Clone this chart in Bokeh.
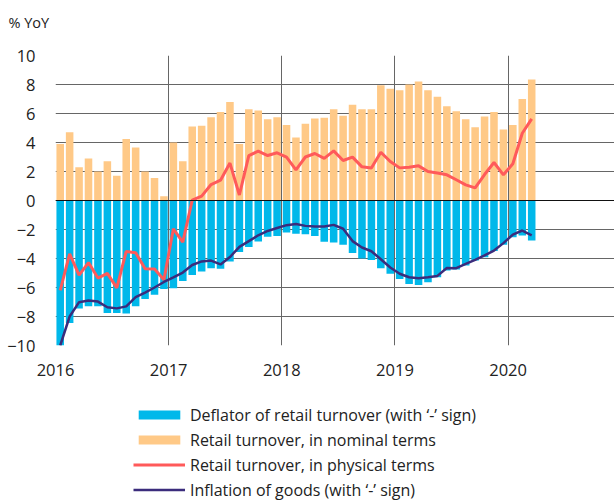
from bokeh.plotting import figure
from bokeh.layouts import column
from bokeh.models import ColumnDataSource, Legend, LegendItem, FixedTicker, Span, Range1d
from bokeh.embed import file_html
from bokeh.resources import INLINE

# ---- data (monthly, Jan 2016 .. Mar 2020) ----
months = [f"{y}-{m:02d}" for y in range(2016, 2021) for m in range(1, 13)][:51]

nominal = [3.9, 4.7, 2.3, 2.9, 2.0, 2.7, 1.7, 4.25, 3.65, 2.0, 1.55, 0.3,
           4.0, 2.7, 5.1, 5.15, 5.75, 6.1, 6.8, 3.9, 6.3, 6.2, 5.6, 5.75,
           5.2, 4.35, 5.3, 5.65, 5.7, 6.3, 5.85, 6.6, 6.3, 6.3, 7.95, 7.7,
           7.6, 8.0, 8.2, 7.6, 7.15, 6.5, 6.15, 5.6, 5.05, 5.8, 6.1, 4.9,
           5.2, 7.0, 8.35]

deflator = [-10.0, -8.45, -7.45, -7.3, -7.3, -7.75, -7.75, -7.8, -7.3, -6.8, -6.5, -6.1,
            -6.05, -5.55, -5.13, -4.9, -4.67, -4.71, -4.2, -3.56, -3.2, -2.83, -2.5, -2.45,
            -2.2, -2.3, -2.32, -2.45, -2.85, -2.9, -3.05, -3.62, -4.0, -4.1, -4.67, -5.06,
            -5.42, -5.75, -5.82, -5.63, -5.29, -4.83, -4.76, -4.48, -4.14, -3.91, -3.49, -3.06,
            -2.53, -2.41, -2.76]

physical = [-6.2, -3.68, -5.15, -4.28, -5.35, -5.03, -6.03, -3.51, -3.6, -4.7, -4.72, -5.46,
            -1.95, -2.87, 0.03, 0.3, 1.1, 1.4, 2.58, 0.38, 3.1, 3.4, 3.1, 3.29,
            2.99, 2.11, 3.0, 3.24, 2.9, 3.42, 2.76, 2.99, 2.32, 2.24, 3.33, 2.69,
            2.25, 2.3, 2.39, 2.0, 1.89, 1.77, 1.43, 1.08, 0.87, 1.79, 2.62, 1.77,
            2.53, 4.64, 5.63]

inflation = [-10.0, -8.0, -7.01, -6.9, -6.97, -7.36, -7.44, -7.3, -6.67, -6.35, -6.0, -5.62,
             -5.3, -4.97, -4.45, -4.2, -4.14, -4.41, -3.9, -3.2, -2.8, -2.4, -2.1, -1.9,
             -1.7, -1.62, -1.75, -1.8, -1.8, -1.68, -1.95, -2.8, -3.24, -3.5, -4.05, -4.62,
             -5.05, -5.29, -5.36, -5.3, -5.2, -4.66, -4.67, -4.37, -4.09, -3.79, -3.45, -2.94,
             -2.35, -2.07, -2.4]

year_ticks = [2016, 2017, 2018, 2019, 2020]
year_labels = ["2016", "2017", "2018", "2019", "2020"]
y_ticks = [-10, -8, -6, -4, -2, 0, 2, 4, 6, 8, 10]

unit_label = "% YoY"
names = ["Deflator of retail turnover (with \u2018-\u2019 sign)",
         "Retail turnover, in nominal terms",
         "Retail turnover, in physical terms",
         "Inflation of goods (with \u2018-\u2019 sign)"]

# ---- styling ----
FONT = "Open Sans"
TXT = "#222222"
ORANGE = "#FFC987"
BLUE = "#00B8EA"
RED = "#FF5A5A"
NAVY = "#3B2C7C"
GRID = "#666666"

x = [int(s[:4]) + (int(s[5:]) - 0.5) / 12 for s in months]
src = ColumnDataSource(dict(x=x, nominal=nominal, deflator=deflator,
                            physical=physical, inflation=inflation))

# ---------------- top strip with unit label ----------------
tt = figure(width=614, height=45, min_border=0,
            x_axis_location=None, y_axis_location=None,
            x_range=Range1d(0, 1), y_range=Range1d(0, 1),
            output_backend="svg", toolbar_location=None)
tt.grid.visible = False
tt.outline_line_color = None
tt.title.text = unit_label
tt.title.align = "left"
tt.title.offset = -47
tt.title.standoff = 20
tt.title.text_font = FONT
tt.title.text_font_size = "14.5px"
tt.title.text_font_style = "normal"
tt.title.text_color = TXT

# ---------------- main chart ----------------
p = figure(frame_width=559, frame_height=290,
           min_border_left=55, min_border_right=0, min_border_top=10, min_border_bottom=50,
           x_range=Range1d(2016, 2020.94), y_range=Range1d(-10, 10),
           output_backend="svg", toolbar_location=None)

p.outline_line_color = None
p.background_fill_color = "white"
p.border_fill_color = "white"

bw = 0.8 / 12
p.vbar(x="x", top="nominal", bottom=0, width=bw, source=src,
       fill_color=ORANGE, line_color=None)
p.vbar(x="x", top=0, bottom="deflator", width=bw, source=src,
       fill_color=BLUE, line_color=None)

zero = Span(location=0, dimension="width", line_color="#111111", line_width=1.2, level="glyph")
p.add_layout(zero)

p.line(x="x", y="physical", source=src, line_color=RED, line_width=3)
p.line(x="x", y="inflation", source=src, line_color=NAVY, line_width=2.5)

for ax in (p.xaxis[0], p.yaxis[0]):
    ax.axis_line_color = None
    ax.major_tick_line_color = None
    ax.minor_tick_line_color = None
    ax.major_tick_out = 0
    ax.major_tick_in = 0
    ax.minor_tick_out = 0
    ax.major_label_text_font = FONT
    ax.major_label_text_font_size = "16.5px"
    ax.major_label_text_color = TXT

p.xaxis.ticker = FixedTicker(ticks=year_ticks)
p.xaxis.major_label_overrides = {t: l for t, l in zip(year_ticks, year_labels)}
p.xaxis.major_label_standoff = 18
p.yaxis.ticker = FixedTicker(ticks=y_ticks)
p.yaxis.major_label_standoff = 20

p.xgrid.ticker = FixedTicker(ticks=year_ticks)
p.ygrid.ticker = FixedTicker(ticks=y_ticks)
for g in (p.xgrid[0], p.ygrid[0]):
    g.grid_line_color = GRID
    g.grid_line_width = 1

# ---------------- legend strip ----------------
lg = figure(width=614, height=106, min_border=0,
            x_axis_location=None, y_axis_location=None,
            x_range=Range1d(0, 1), y_range=Range1d(0, 1),
            output_backend="svg", toolbar_location=None)
lg.grid.visible = False
lg.outline_line_color = None
# legend swatches only: the data lie outside this strip's ranges
k_def = lg.vbar(x="x", top=0, bottom="deflator", width=bw, source=src,
                fill_color=BLUE, line_color=None)
k_nom = lg.vbar(x="x", top="nominal", bottom=0, width=bw, source=src,
                fill_color=ORANGE, line_color=None)
k_phy = lg.line(x="x", y="physical", source=src, line_color=RED, line_width=3)
k_inf = lg.line(x="x", y="inflation", source=src, line_color=NAVY, line_width=2.5)

legend = Legend(items=[LegendItem(label=names[0], renderers=[k_def]),
                       LegendItem(label=names[1], renderers=[k_nom]),
                       LegendItem(label=names[2], renderers=[k_phy]),
                       LegendItem(label=names[3], renderers=[k_inf])],
                location=(78, -1), orientation="vertical",
                padding=0, margin=0, spacing=0,
                glyph_width=52, glyph_height=11, label_height=25,
                label_standoff=5,
                label_text_font=FONT, label_text_font_size="16px", label_text_color=TXT,
                border_line_color=None, background_fill_alpha=0)
lg.add_layout(legend)

layout = column(tt, p, lg, spacing=0)
open("out.html", "w").write(file_html(layout, INLINE))
